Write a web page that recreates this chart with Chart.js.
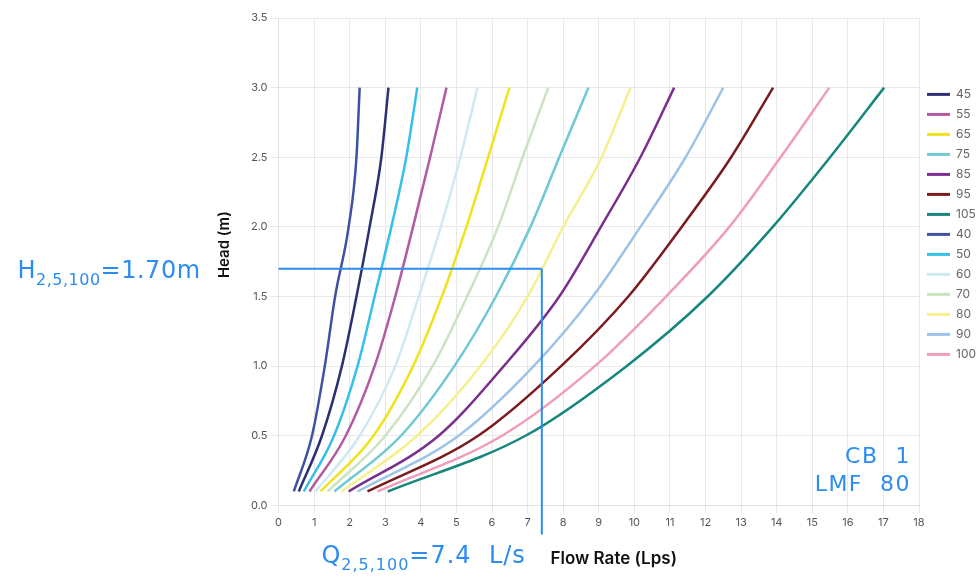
<!DOCTYPE html>
<html>
<head>
    <script src="https://cdn.jsdelivr.net/npm/chart.js"></script>
    <style>
        body {
            margin: 0;
            background: #ffffff;
        }
    </style>
</head>
<body>
    <canvas id="curveChart" width="976" height="576"></canvas>

    <script>
        // head values (m) shared by every curve
        const heads = [0.1, 0.5, 1.0, 1.5, 2.0, 2.5, 3.0];

        // flow rate (Lps) read at each head, one array per curve
        const flow45 = [0.57, 1.22, 1.78, 2.19, 2.56, 2.89, 3.09];
        const flow55 = [0.87, 1.89, 2.70, 3.28, 3.78, 4.26, 4.72];
        const flow65 = [1.18, 2.67, 3.78, 4.59, 5.28, 5.89, 6.49];
        const flow75 = [1.57, 3.44, 4.94, 6.11, 7.08, 7.89, 8.71];
        const flow85 = [1.97, 4.50, 6.33, 7.89, 9.06, 10.17, 11.12];
        const flow95 = [2.50, 5.61, 7.94, 9.83, 11.33, 12.72, 13.90];
        const flow105 = [3.07, 6.94, 9.78, 12.06, 13.89, 15.50, 17.02];
        const flow40 = [0.43, 0.94, 1.30, 1.59, 1.97, 2.19, 2.28];
        const flow50 = [0.71, 1.56, 2.22, 2.70, 3.17, 3.59, 3.90];
        const flow60 = [1.04, 2.28, 3.28, 3.94, 4.56, 5.11, 5.59];
        const flow70 = [1.38, 3.00, 4.33, 5.30, 6.17, 6.86, 7.58];
        const flow80 = [1.77, 3.89, 5.67, 7.00, 8.00, 9.08, 9.89];
        const flow90 = [2.22, 5.06, 7.17, 8.83, 10.17, 11.44, 12.50];
        const flow100 = [2.78, 6.28, 8.89, 10.89, 12.67, 14.11, 15.48];

        const seriesLabels = ['45', '55', '65', '75', '85', '95', '105', '40', '50', '60', '70', '80', '90', '100'];
        const seriesFlows = [flow45, flow55, flow65, flow75, flow85, flow95, flow105,
                             flow40, flow50, flow60, flow70, flow80, flow90, flow100];
        const seriesColors = ['#2c2f72', '#b25aa2', '#f0e21c', '#6dc9d3', '#7a2f8e', '#7b1b1e', '#17867c',
                              '#3e52a3', '#36bfe9', '#cdeaf1', '#cde3bf', '#f5f08e', '#9dc3e6', '#ef9dbd'];

        // design point marked on the chart
        const designFlow = 7.4;
        const designHead = 1.70;

        const xTicks = [0, 18, 1];
        const yTicks = [0, 3.5, 0.5];

        const blue = '#2b8cf2';
        const noteFont = '"DejaVu Sans"';

        const designPoint = {
            id: 'designPoint',
            afterDatasetsDraw(chart) {
                const ctx = chart.ctx;
                const xs = chart.scales.x;
                const ys = chart.scales.y;
                const area = chart.chartArea;
                const px = xs.getPixelForValue(designFlow);
                const py = ys.getPixelForValue(designHead);

                ctx.save();
                ctx.strokeStyle = blue;
                ctx.lineWidth = 2;
                ctx.beginPath();
                ctx.moveTo(area.left, py);
                ctx.lineTo(px, py);
                ctx.moveTo(px, py);
                ctx.lineTo(px, area.bottom + 29);
                ctx.stroke();

                ctx.fillStyle = blue;
                ctx.textBaseline = 'alphabetic';

                // H2,5,100=1.70m on the left, Q2,5,100=7.4 L/s below
                const drawSub = (main, sub, rest, rightX, baseY, spacing) => {
                    ctx.letterSpacing = spacing;
                    ctx.font = '24px ' + noteFont;
                    const w1 = ctx.measureText(main).width;
                    const w3 = ctx.measureText(rest).width;
                    ctx.font = '16px ' + noteFont;
                    const w2 = ctx.measureText(sub).width;
                    let x = rightX - (w1 + w2 + w3);
                    ctx.textAlign = 'left';
                    ctx.font = '24px ' + noteFont;
                    ctx.fillText(main, x, baseY);
                    x += w1;
                    ctx.font = '16px ' + noteFont;
                    ctx.fillText(sub, x, baseY + 7);
                    x += w2;
                    ctx.font = '24px ' + noteFont;
                    ctx.fillText(rest, x, baseY);
                };
                drawSub('H', '2,5,100', '=1.70m', area.left - 78, py + 9, '0.5px');
                drawSub('Q', '2,5,100', '=7.4  L/s', px - 16, area.bottom + 58, '1px');

                ctx.letterSpacing = '1.5px';
                ctx.font = '22px ' + noteFont;
                ctx.textAlign = 'right';
                ctx.fillText('CB  1', area.right - 8, area.bottom - 42);
                ctx.fillText('LMF  80', area.right - 8, area.bottom - 14);
                ctx.restore();
            }
        };

        const ctx = document.getElementById('curveChart').getContext('2d');
        new Chart(ctx, {
            type: 'line',
            data: {
                datasets: seriesLabels.map((label, i) => ({
                    label: label,
                    data: seriesFlows[i].map((f, j) => ({ x: f, y: heads[j] })),
                    borderColor: seriesColors[i],
                    backgroundColor: seriesColors[i],
                    borderWidth: 2.5,
                    pointRadius: 0,
                    cubicInterpolationMode: 'monotone',
                    fill: false
                }))
            },
            options: {
                responsive: false,
                animation: false,
                layout: {
                    padding: { left: 215, top: 18, bottom: 7, right: 0 }
                },
                plugins: {
                    tooltip: { enabled: false },
                    legend: {
                        position: 'right',
                        align: 'start',
                        maxWidth: 57,
                        title: {
                            display: true,
                            text: ' ',
                            font: { size: 12 },
                            padding: { top: 48, bottom: 0 }
                        },
                        labels: {
                            usePointStyle: true,
                            pointStyleWidth: 23,
                            boxHeight: 12,
                            padding: 8,
                            color: '#222',
                            font: { family: 'Inter', size: 12 },
                            generateLabels: function (chart) {
                                return chart.data.datasets.map((ds, i) => ({
                                    text: ds.label,
                                    fillStyle: ds.borderColor,
                                    strokeStyle: ds.borderColor,
                                    lineWidth: 3,
                                    pointStyle: 'line',
                                    hidden: false,
                                    datasetIndex: i
                                }));
                            }
                        }
                    }
                },
                scales: {
                    x: {
                        type: 'linear',
                        min: xTicks[0],
                        max: xTicks[1],
                        ticks: {
                            stepSize: xTicks[2],
                            color: '#555',
                            font: { family: 'Inter', size: 11 }
                        },
                        grid: { color: '#e8e8e8' },
                        border: { color: '#e0e0e0' },
                        title: {
                            display: true,
                            text: '       Flow Rate (Lps)',
                            color: '#111',
                            font: { family: 'Inter', size: 17, weight: '600' },
                            padding: { top: 16, bottom: 0 }
                        }
                    },
                    y: {
                        min: yTicks[0],
                        max: yTicks[1],
                        ticks: {
                            stepSize: yTicks[2],
                            color: '#555',
                            font: { family: 'Inter', size: 11 },
                            callback: v => v.toFixed(1)
                        },
                        grid: { color: '#e8e8e8' },
                        border: { color: '#e0e0e0' },
                        title: {
                            display: true,
                            text: '         Head (m)',
                            color: '#111',
                            font: { family: 'Inter', size: 15, weight: '600' },
                            padding: { top: 0, bottom: 15 }
                        }
                    }
                }
            },
            plugins: [designPoint]
        });
    </script>
</body>
</html>
